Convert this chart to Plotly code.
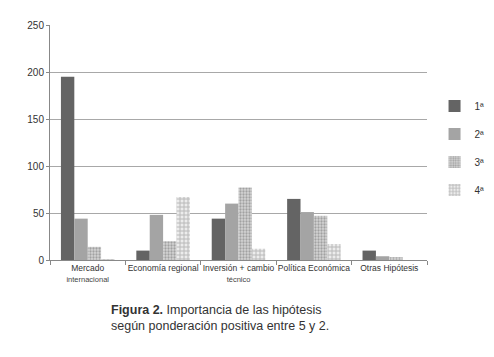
import plotly.graph_objects as go

categories = ["Mercado<br><span style='font-size:7.5px;color:#444444'>internacional</span>",
              "Economía regional",
              "Inversión + cambio<br><span style='font-size:7.5px;color:#444444'>técnico</span>",
              "Política Económica",
              "Otras Hipótesis"]
series_names = ["1ª", "2ª", "3ª", "4ª"]
v1 = [195, 10, 44, 65, 10]
v2 = [44, 48, 60, 51, 4]
v3 = [14, 20, 77, 47, 3]
v4 = [1, 67, 12, 17, 0]
y_ticks = [0, 50, 100, 150, 200, 250]

FONT = "Liberation Sans, Arial, sans-serif"

fig = go.Figure()
fig.add_trace(go.Bar(name=series_names[0], x=categories, y=v1,
                     marker=dict(color="#646464", line=dict(width=0)), legendgroup="a"))
fig.add_trace(go.Bar(name=series_names[1], x=categories, y=v2,
                     marker=dict(color="#a4a4a4", line=dict(width=0)), legendgroup="b"))
fig.add_trace(go.Bar(name=series_names[2], x=categories, y=v3,
                     marker=dict(color="#cfcfcf", line=dict(width=0),
                                 pattern=dict(shape=".", fgcolor="#6e6e6e", bgcolor="#d4d4d4",
                                              size=3, solidity=0.45)), legendgroup="c"))
fig.add_trace(go.Bar(name=series_names[3], x=categories, y=v4,
                     marker=dict(color="#d8d8d8", line=dict(width=0),
                                 pattern=dict(shape="+", fgcolor="#7c7c7c", bgcolor="#ececec",
                                              size=4, solidity=0.4)), legendgroup="d"))

fig.update_layout(
    width=494, height=357,
    margin=dict(l=42, r=56, t=17, b=105),
    paper_bgcolor="white", plot_bgcolor="white",
    barmode="group", bargap=0.29, bargroupgap=0,
    font=dict(family=FONT, size=10, color="#333333"),
    showlegend=True,
    legend=dict(x=1.02, xanchor="left", y=0.477, yanchor="middle",
                font=dict(size=10, color="#333333"), tracegroupgap=9,
                bgcolor="rgba(0,0,0,0)"),
    xaxis=dict(showline=True, linecolor="#888888", linewidth=1, tickangle=0,
               ticks="outside", tickson="boundaries", ticklen=4, tickcolor="#888888",
               showgrid=False, tickfont=dict(size=8.5, color="#333333")),
    yaxis=dict(range=[0, 250], tickvals=y_ticks, showline=True, linecolor="#888888",
               linewidth=1, ticks="outside", ticklen=3, tickcolor="#888888",
               showgrid=True, gridcolor="#a8a8a8", gridwidth=1, zeroline=False,
               tickfont=dict(size=10, color="#333333")),
)

fig.add_annotation(
    xref="paper", yref="paper", x=0.157, y=-0.175, xanchor="left", yanchor="top",
    align="left", showarrow=False,
    text="<b>Figura 2.</b> Importancia de las hipótesis<br>según ponderación positiva entre 5 y 2.",
    font=dict(family=FONT, size=12.5, color="#333333"),
)

fig.write_html("out.html")
